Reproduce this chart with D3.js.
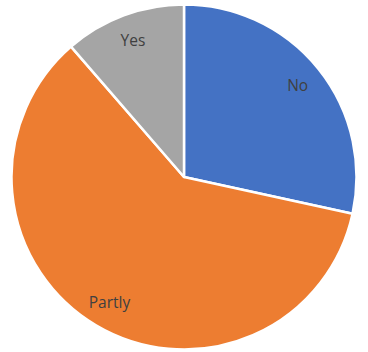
<!DOCTYPE html>
<html><head><meta charset="utf-8">
<script src="https://cdn.jsdelivr.net/npm/d3@7"></script>
<style>html,body{margin:0;padding:0;background:#fff;}svg{display:block;}</style>
</head><body>
<svg id="chart" width="368" height="352"></svg>
<script>
const categories = ["No", "Partly", "Yes"];
const values = [25, 53, 10];
const colors = ["#4472C4", "#ED7D31", "#A5A5A5"];

const svg = d3.select("#chart");
const cx = 184, cy = 177, r = 172.5;
const g = svg.append("g").attr("transform", `translate(${cx},${cy})`);
const data = categories.map((c, i) => ({cat: c, val: values[i], col: colors[i]}));
const pie = d3.pie().value(d => d.val).sort(null);
const arcs = pie(data);
const arc = d3.arc().innerRadius(0).outerRadius(r);
g.selectAll("path").data(arcs).join("path")
  .attr("d", arc).attr("fill", d => d.data.col)
  .attr("stroke", "#fff").attr("stroke-width", 2.5).attr("stroke-linejoin", "round");
const labelArc = d3.arc().innerRadius(146).outerRadius(146);
g.selectAll("text").data(arcs).join("text")
  .attr("transform", d => { const [x, y] = labelArc.centroid(d); return `translate(${x},${y})`; })
  .attr("text-anchor", "middle").attr("dy", "0.35em")
  .attr("font-family", "'Open Sans', 'Noto Sans', sans-serif").attr("font-size", 15.5)
  .attr("fill", "#404040")
  .text(d => d.data.cat);
</script>
</body></html>
